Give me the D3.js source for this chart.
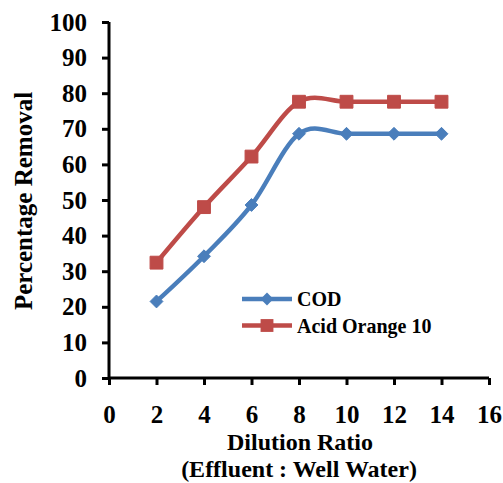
<!DOCTYPE html>
<html><head><meta charset="utf-8">
<script src="https://cdn.jsdelivr.net/npm/d3@7"></script>
<style>body{margin:0;background:#fff}svg{display:block}
svg text{font-family:"Liberation Serif","Times New Roman",serif;font-weight:bold}</style>
</head><body>
<script>
const dilution = [2, 4, 6, 8, 10, 12, 14];
const codRemoval = [21.5, 34.2, 48.6, 68.6, 68.6, 68.6, 68.6];
const aoRemoval = [32.4, 48, 62.2, 77.6, 77.6, 77.6, 77.6];
const xTicks = [0, 2, 4, 6, 8, 10, 12, 14, 16];
const yTicks = [0, 10, 20, 30, 40, 50, 60, 70, 80, 90, 100];
const seriesNames = ["COD", "Acid Orange 10"];

const W = 503, H = 483;
const svg = d3.select("body").append("svg").attr("width", W).attr("height", H);
const x = d3.scaleLinear().domain([0, 16]).range([109, 489]);
const y = d3.scaleLinear().domain([0, 100]).range([378, 22]);

const blue = "#4A7EBB", red = "#BE4B48";

// axes
const xAx = svg.append("g").attr("transform", `translate(0,${y(0)})`)
  .call(d3.axisBottom(x).tickValues(xTicks).tickSize(7).tickPadding(18).tickFormat(d3.format("d")));
const yAx = svg.append("g").attr("transform", `translate(${x(0)},0)`)
  .call(d3.axisLeft(y).tickValues(yTicks).tickSize(7).tickPadding(15).tickFormat(d3.format("d")));
[xAx, yAx].forEach(a => {
  a.attr("font-family", null).attr("font-size", null);
  a.select(".domain").attr("stroke", "#000").attr("stroke-width", 3);
  a.selectAll(".tick line").attr("stroke", "#000").attr("stroke-width", 3);
  a.selectAll("text").style("font-size", "25px").attr("fill", "#000");
});
xAx.selectAll("text").attr("dy", null).attr("y", 45);
xAx.select(".domain").attr("d", `M${x(0)},0H${x(16)}`);
yAx.select(".domain").attr("d", `M0,${y(100)}V${y(0)}`);

// titles
svg.append("text").attr("x", 300).attr("y", 450).attr("text-anchor", "middle")
  .style("font-size", "24px").text("Dilution Ratio");
svg.append("text").attr("x", 299).attr("y", 477).attr("text-anchor", "middle")
  .style("font-size", "24px").text("(Effluent : Well Water)");
svg.append("text").attr("transform", `translate(32,201) rotate(-90)`).attr("text-anchor", "middle")
  .style("font-size", "25px").text("Percentage Removal");

const line = d3.line().x(d => x(d[0])).y(d => y(d[1])).curve(d3.curveCardinal.tension(0));
const data = [
  {name: seriesNames[0], color: blue, vals: dilution.map((d, i) => [d, codRemoval[i]]), sym: d3.symbolDiamond2, size: 105},
  {name: seriesNames[1], color: red, vals: dilution.map((d, i) => [d, aoRemoval[i]]), sym: d3.symbolSquare, size: 165}
];

data.forEach(s => {
  svg.append("path").attr("d", line(s.vals)).attr("fill", "none")
    .attr("stroke", s.color).attr("stroke-width", 4.5);
});
data.forEach(s => {
  svg.selectAll(null).data(s.vals).enter().append("path")
    .attr("transform", d => `translate(${x(d[0])},${y(d[1])})`)
    .attr("d", d3.symbol().type(s.sym).size(s.size))
    .attr("fill", s.color).attr("stroke", s.color).attr("stroke-width", 1);
});

// legend
data.forEach((s, i) => {
  const ly = 299 + i * 26.5;
  svg.append("line").attr("x1", 242).attr("x2", 292).attr("y1", ly).attr("y2", ly)
    .attr("stroke", s.color).attr("stroke-width", 4.5);
  svg.append("path").attr("transform", `translate(267,${ly})`)
    .attr("d", d3.symbol().type(s.sym).size(s.size))
    .attr("fill", s.color);
  svg.append("text").attr("x", 297).attr("y", ly + 7)
    .style("font-size", "20px").text(s.name);
});
</script>
</body></html>
